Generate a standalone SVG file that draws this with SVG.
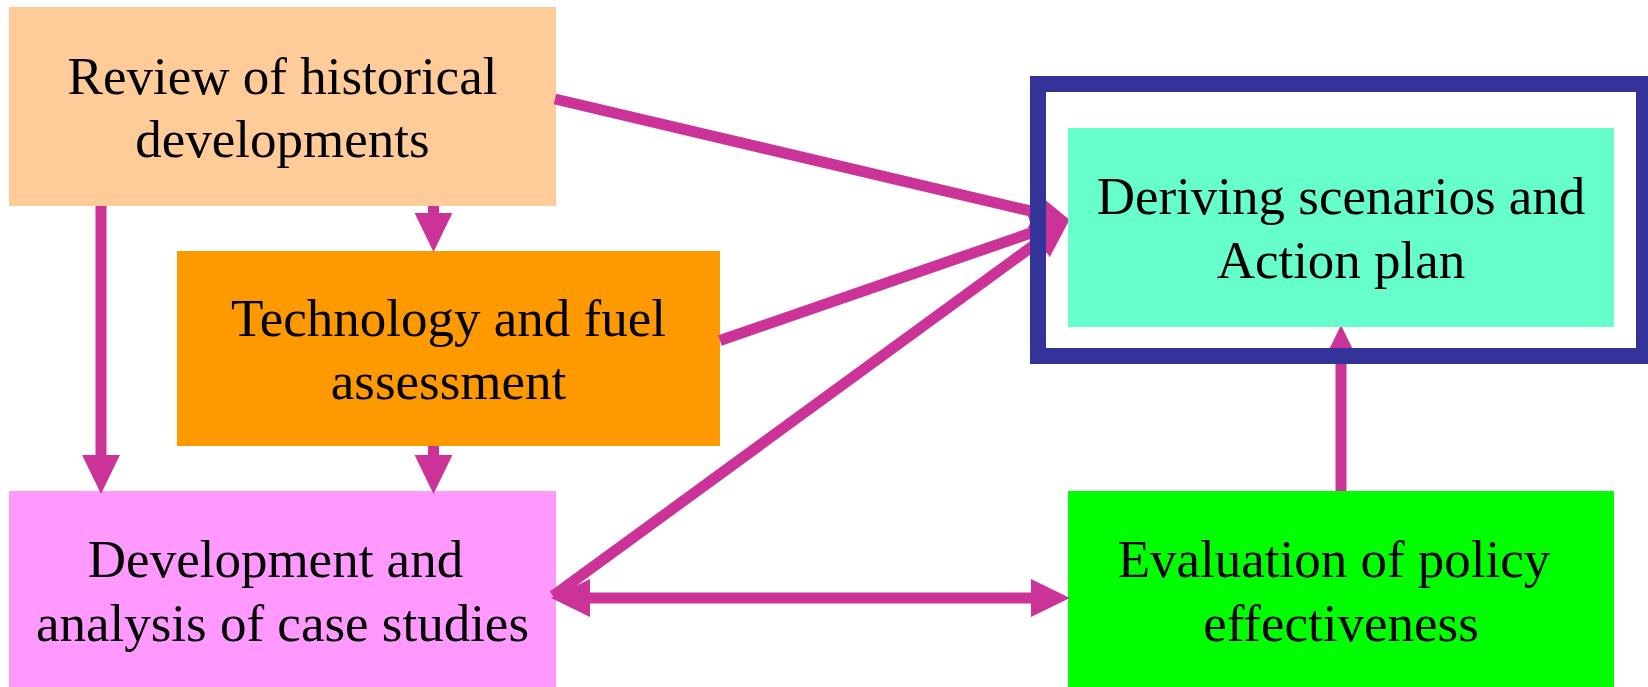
<svg xmlns="http://www.w3.org/2000/svg" width="1648" height="687" viewBox="0 0 1648 687">
<style>
.box{stroke:none}
.lbl{font-family:"Liberation Serif","Times New Roman",serif;font-size:53px;fill:#000;text-anchor:middle}
.conn{stroke:#CC3399;stroke-width:11;fill:none;stroke-linecap:butt}
</style>
<defs>
<marker id="ah" markerUnits="userSpaceOnUse" markerWidth="40" markerHeight="40" viewBox="-1 -19 38 38" refX="0" refY="0" orient="auto-start-reverse">
<path d="M-1,-18 L36,0 L-1,18 z" fill="#CC3399"/>
</marker>
</defs>
<rect width="1648" height="687" fill="#fff"/>
<g id="review">
<rect class="box" x="9" y="7" width="547" height="199" fill="#FFCC99"/>
<text class="lbl" x="282.5" y="94">Review of historical</text>
<text class="lbl" x="282.5" y="157">developments</text>
</g>
<g id="technology">
<rect class="box" x="177" y="251" width="543" height="195" fill="#FF9900"/>
<text class="lbl" x="448.5" y="336">Technology and fuel</text>
<text class="lbl" x="448.5" y="399">assessment</text>
</g>
<g id="development">
<rect class="box" x="9" y="491" width="547" height="196" fill="#FF99FF"/>
<text class="lbl" x="275.5" y="577">Development and</text>
<text class="lbl" x="282.5" y="641">analysis of case studies</text>
</g>
<g id="evaluation">
<rect class="box" x="1068" y="491" width="546" height="196" fill="#00FF00"/>
<text class="lbl" x="1334" y="577">Evaluation of policy</text>
<text class="lbl" x="1341" y="641">effectiveness</text>
</g>
<g id="connectors">
<line class="conn" x1="555" y1="99" x2="1033.5" y2="211.7" marker-end="url(#ah)"/>
<line class="conn" x1="720" y1="340.5" x2="1034.5" y2="231.8" marker-end="url(#ah)"/>
<line class="conn" x1="553" y1="596" x2="1039.4" y2="241.2" marker-end="url(#ah)"/>
<line class="conn" x1="433.5" y1="206" x2="433.5" y2="214" marker-end="url(#ah)"/>
<line class="conn" x1="433.5" y1="446" x2="433.5" y2="456" marker-end="url(#ah)"/>
<line class="conn" x1="101" y1="206" x2="101" y2="456" marker-end="url(#ah)"/>
<line class="conn" x1="1341" y1="491" x2="1341" y2="363" marker-end="url(#ah)"/>
<line class="conn" x1="589" y1="598" x2="1032" y2="598" marker-start="url(#ah)" marker-end="url(#ah)"/>
</g>
<g id="deriving">
<rect x="1038" y="84" width="606" height="272" fill="none" stroke="#333399" stroke-width="16"/>
<rect class="box" x="1068" y="128" width="546" height="199" fill="#66FFCC"/>
<text class="lbl" x="1341" y="214">Deriving scenarios and</text>
<text class="lbl" x="1341" y="278">Action plan</text>
</g>
</svg>
